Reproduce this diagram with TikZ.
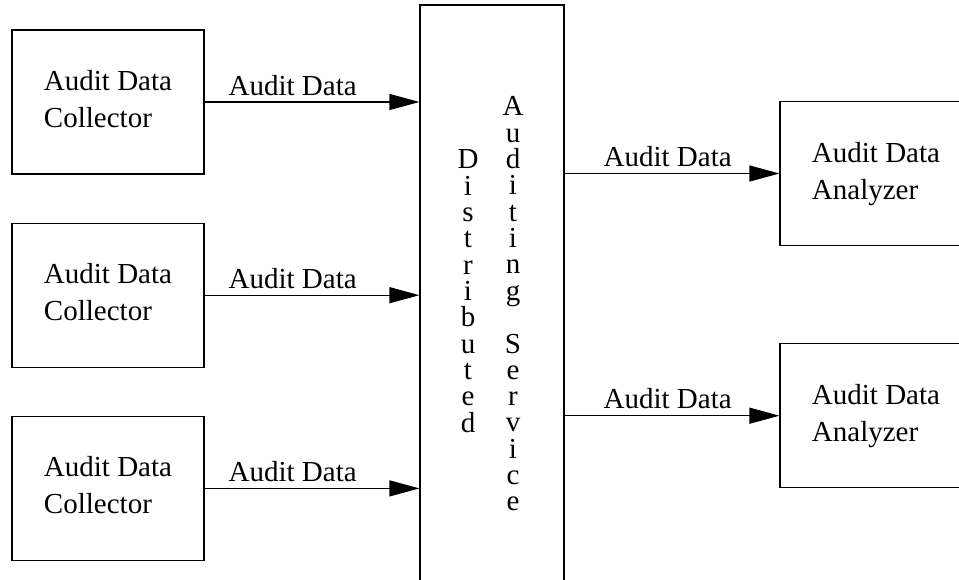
\documentclass[tikz,border=0pt]{standalone}
\usepackage{fontspec}
\setmainfont{Liberation Serif}
\usetikzlibrary{positioning,arrows.meta}

\begin{document}
\begin{tikzpicture}[
  x=1pt, y=-1pt,
  node distance=48pt and 48pt,
  every node/.style={font=\fontsize{29}{37}\selectfont},
  unitbox/.style={draw, line width=1.2pt, minimum width=192pt, minimum height=144pt,
                  align=left, text depth=6pt, inner sep=0pt},
  letter/.style={anchor=base, inner sep=0pt},
  lbl/.style={above=6pt, inner sep=0pt},
  arr/.style={-{Triangle[length=30pt,width=16pt]}, line width=1.2pt}]

\useasboundingbox (0,0) rectangle (959,580);
\clip (0,0) rectangle (959,580);

%% Collectors on the left
\node[unitbox] (col1) at (108,102) {Audit Data\\Collector};
\node[unitbox, below=of col1] (col2) {Audit Data\\Collector};
\node[unitbox, below=of col2] (col3) {Audit Data\\Collector};

%% Central service (runs off the bottom edge)
\node[draw, line width=1.2pt, minimum width=144pt, minimum height=600pt,
      inner sep=0pt] (dist) at (492,305) {};
\foreach \ch [count=\i from 0] in {D,i,s,t,r,i,b,u,t,e,d}
  \node[letter] (dis\i) at (468, 169+26.3*\i) {\ch};
\foreach \ch [count=\i from 0] in {A,u,d,i,t,i,n,g}
  \node[letter] (aud\i) at (513, 116+26.3*\i) {\ch};
\foreach \ch [count=\i from 0] in {S,e,r,v,i,c,e}
  \node[letter] (srv\i) at (513, 353+26.3*\i) {\ch};

%% Analyzers on the right (run off the right edge)
\node[unitbox] (ana1) at (876,173.5) {Audit Data\\Analyzer};
\node[unitbox, below=97pt of ana1] (ana2) {Audit Data\\Analyzer};

%% Arrows
\foreach \c in {col1,col2,col3}
  \draw[arr] (\c) -- (\c -| dist.west) node[lbl, pos=0.41] {Audit Data};
\foreach \a in {ana1,ana2}
  \draw[arr] (dist.east |- \a.west) -- (\a.west) node[lbl, pos=0.48] {Audit Data};
\end{tikzpicture}
\end{document}
